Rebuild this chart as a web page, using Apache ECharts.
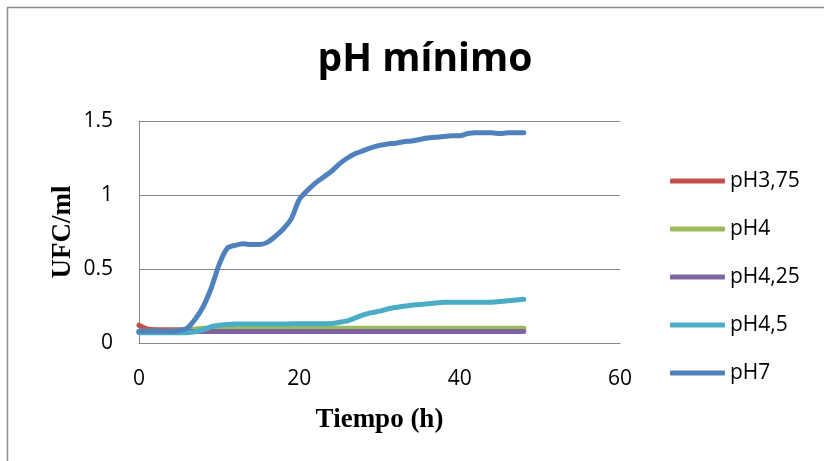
<!DOCTYPE html>
<html>
<head>
<meta charset="utf-8">
<script src="https://cdn.jsdelivr.net/npm/echarts@6/dist/echarts.min.js"></script>
<style>
  html, body { margin: 0; padding: 0; background: #fff; }
  #chart { width: 824px; height: 461px; }
</style>
</head>
<body>
<div id="chart"></div>
<script>
// Sampling times (hours)
const hours = [0,1,2,3,4,5,6,7,8,9,10,11,12,13,14,15,16,17,18,19,20,21,22,23,24,
  25,26,27,28,29,30,31,32,33,34,35,36,37,38,39,40,41,42,43,44,45,46,47,48];

// Growth readings per pH condition (UFC/ml)
const pH3_75 = [0.12,0.095,0.09,0.09,0.09,0.09,0.09,0.09,0.09,0.09,0.09,0.09,0.09,0.09,0.09,0.09,0.09,0.09,0.09,0.09,0.09,0.09,0.09,0.09,0.09,
  0.09,0.09,0.09,0.09,0.09,0.09,0.09,0.09,0.09,0.09,0.09,0.09,0.09,0.09,0.09,0.09,0.09,0.09,0.09,0.09,0.09,0.09,0.09,0.09];
const pH4 = [0.08,0.08,0.08,0.08,0.08,0.085,0.09,0.095,0.1,0.1,0.1,0.1,0.1,0.1,0.1,0.1,0.1,0.1,0.1,0.1,0.1,0.1,0.1,0.1,0.1,
  0.1,0.1,0.1,0.1,0.1,0.1,0.1,0.1,0.1,0.1,0.1,0.1,0.1,0.1,0.1,0.1,0.1,0.1,0.1,0.1,0.1,0.1,0.1,0.1];
const pH4_25 = [0.075,0.075,0.075,0.078,0.078,0.078,0.078,0.078,0.078,0.078,0.078,0.078,0.078,0.078,0.078,0.078,0.078,0.078,0.078,0.078,0.078,0.078,0.078,0.078,0.078,
  0.078,0.078,0.078,0.078,0.078,0.078,0.078,0.078,0.078,0.078,0.078,0.078,0.078,0.078,0.078,0.078,0.078,0.078,0.078,0.078,0.078,0.078,0.078,0.078];
const pH4_5 = [0.07,0.07,0.07,0.07,0.07,0.07,0.07,0.075,0.09,0.11,0.12,0.125,0.128,0.128,0.128,0.128,0.128,0.128,0.128,0.13,0.13,0.13,0.13,0.13,0.132,
  0.14,0.15,0.17,0.19,0.205,0.215,0.23,0.24,0.248,0.255,0.26,0.265,0.27,0.275,0.275,0.275,0.275,0.275,0.275,0.275,0.28,0.285,0.29,0.295];
const pH7 = [0.08,0.08,0.08,0.08,0.08,0.085,0.10,0.16,0.245,0.37,0.53,0.64,0.66,0.67,0.665,0.665,0.68,0.72,0.77,0.84,0.97,1.03,1.08,1.12,1.16,
  1.21,1.25,1.28,1.30,1.32,1.335,1.345,1.35,1.36,1.365,1.375,1.385,1.39,1.395,1.40,1.40,1.415,1.42,1.42,1.42,1.415,1.42,1.42,1.42];

const seriesNames = ['pH3,75', 'pH4', 'pH4,25', 'pH4,5', 'pH7'];
const seriesValues = [pH3_75, pH4, pH4_25, pH4_5, pH7];
const seriesColors = ['#C0504D', '#9BBB59', '#8064A2', '#4BACC6', '#4F81BD'];

const chart = echarts.init(document.getElementById('chart'));

const labelFont = '"Open Sans", sans-serif';
const serifFont = '"Liberation Serif", "Times New Roman", serif';

chart.setOption({
  animation: false,
  backgroundColor: '#ffffff',
  title: {
    text: 'pH mínimo',
    left: 420,
    top: 35,
    textAlign: 'center',
    textStyle: { fontFamily: labelFont, fontWeight: 'bold', fontSize: 39, color: '#000' }
  },
  graphic: [{
    type: 'rect',
    shape: { x: 7.5, y: 7.5, width: 840, height: 480 },
    style: { fill: 'none', stroke: '#8c8c8c', lineWidth: 1.5 },
    silent: true
  }],
  legend: {
    orient: 'vertical',
    left: 665,
    top: 164,
    itemWidth: 55,
    itemHeight: 5,
    itemGap: 24,
    icon: 'roundRect',
    textStyle: { fontFamily: labelFont, fontSize: 21, color: '#000', lineHeight: 24 },
    data: seriesNames
  },
  grid: { left: 139, right: 204, top: 121, bottom: 118, containLabel: false },
  xAxis: {
    type: 'value',
    min: 0, max: 60, interval: 20,
    name: 'Tiempo (h)',
    nameLocation: 'middle',
    nameGap: 64,
    nameMoveOverlap: false,
    nameTextStyle: { fontFamily: serifFont, fontWeight: 'bold', fontSize: 27, color: '#000' },
    axisLine: { show: true, lineStyle: { color: '#868686', width: 1 } },
    axisTick: { show: false },
    splitLine: { show: false },
    axisLabel: { margin: 26, fontFamily: labelFont, fontSize: 21, color: '#000' }
  },
  yAxis: {
    type: 'value',
    min: 0, max: 1.5, interval: 0.5,
    name: 'UFC/ml',
    nameLocation: 'middle',
    nameGap: 62,
    nameMoveOverlap: false,
    nameRotate: 90,
    nameTextStyle: { fontFamily: serifFont, fontWeight: 'bold', fontSize: 27, color: '#000' },
    axisLine: { show: true, lineStyle: { color: '#868686', width: 1 } },
    axisTick: { show: false },
    splitLine: { show: true, lineStyle: { color: '#868686', width: 1 } },
    axisLabel: { margin: 26, fontFamily: labelFont, fontSize: 21, color: '#000' }
  },
  series: seriesNames.map((name, i) => ({
    name: name,
    type: 'line',
    showSymbol: false,
    symbol: 'none',
    smooth: 0.3,
    color: seriesColors[i],
    lineStyle: { width: 5, color: seriesColors[i], cap: 'round', join: 'round' },
    data: hours.map((h, j) => [h, seriesValues[i][j]])
  }))
});
</script>
</body>
</html>
